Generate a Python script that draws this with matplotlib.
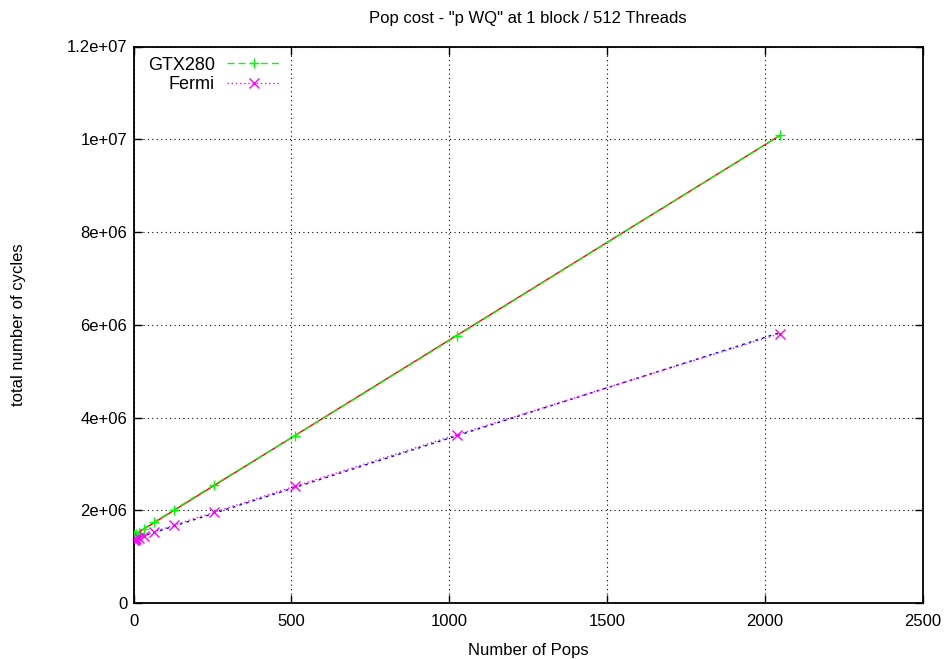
import numpy as np
import matplotlib
matplotlib.use("Agg")
import matplotlib.pyplot as plt
from matplotlib.ticker import FuncFormatter

plt.rcParams['font.family'] = ['Liberation Sans', 'DejaVu Sans']

pops = [1, 2, 4, 8, 16, 32, 64, 128, 256, 512, 1024, 2048]
gtx280 = [1.455e6, 1.46e6, 1.47e6, 1.48e6, 1.52e6, 1.60e6, 1.74e6, 2.01e6,
          2.55e6, 3.61e6, 5.76e6, 10.09e6]
fermi = [1.36e6, 1.365e6, 1.37e6, 1.38e6, 1.40e6, 1.45e6, 1.53e6, 1.68e6,
         1.96e6, 2.52e6, 3.63e6, 5.81e6]

x = np.array(pops, dtype=float)
g_fit = np.polyfit(x, gtx280, 1)
f_fit = np.polyfit(x, fermi, 1)
xs = np.linspace(0, x.max(), 50)

W, H = 947, 659
L, R, B, T = 133.5, 923, 603, 46.5
fig = plt.figure(figsize=(W / 100, H / 100), dpi=100)
ax = fig.add_axes([L / W, 1 - B / H, (R - L) / W, (B - T) / H])

ax.plot(xs, np.polyval(g_fit, xs), color='#ff0000', lw=1, zorder=2)
ax.plot(x, gtx280, color='#00ff00', lw=1, ls=(0, (5, 3)), marker='+',
        ms=7, mew=1, label='GTX280', zorder=3)
ax.plot(xs, np.polyval(f_fit, xs), color='#0000ff', lw=1, ls=(0, (2, 3)), zorder=2)
ax.plot(x, fermi, color='#ff00ff', lw=1, ls=(0, (1, 2)), marker='x',
        ms=6.5, mew=1, label='Fermi', zorder=3)

ax.set_xlim(0, 2500)
ax.set_ylim(0, 1.2e7)
ax.set_xticks(np.arange(0, 2501, 500))
ax.set_yticks(np.arange(0, 1.21e7, 2e6))
ax.yaxis.set_major_formatter(FuncFormatter(lambda v, p: '0' if v == 0 else ('%.1e' % v).replace('.0e', 'e')))
ax.tick_params(direction='in', length=6, width=1, top=True, right=True, labelsize=12)
ax.tick_params(axis='x', pad=8)
ax.tick_params(axis='y', pad=4.5)
ax.grid(True, color='black', ls=(0, (1, 3)), lw=0.8)
for s in ax.spines.values():
    s.set_linewidth(1.3)

fig.text((L + R) / 2 / W, 1 - 18 / H, 'Pop cost - "p WQ" at 1 block / 512 Threads',
         fontsize=12, ha='center', va='center')
ax.set_xlabel('Number of Pops', fontsize=12, va='center')
ax.xaxis.set_label_coords(0.5, (B - 651) / (B - T))
ax.set_ylabel('total number of cycles', fontsize=12, va='center')
ax.yaxis.set_label_coords((18 - L) / (R - L), 0.5)

ax.legend(loc='upper left', markerfirst=False, frameon=False, fontsize=13,
          handlelength=2.9, handletextpad=0.7, labelspacing=0.15,
          borderaxespad=0, bbox_to_anchor=(7 / (R - L), 1 - 3 / (B - T)))

fig.savefig('out.png', dpi=100)
